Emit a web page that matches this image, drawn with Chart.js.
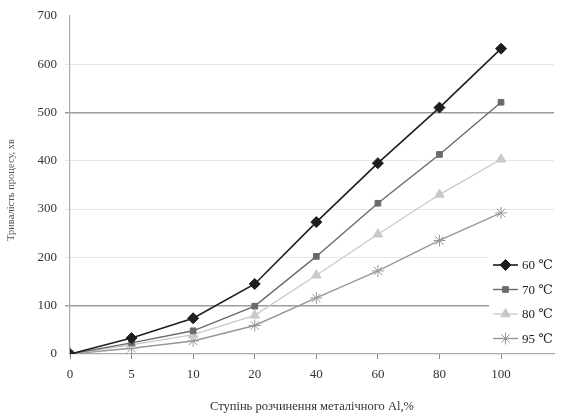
<!DOCTYPE html>
<html>
<head>
<meta charset="utf-8">
<script src="https://cdn.jsdelivr.net/npm/chart.js@4/dist/chart.umd.min.js"></script>
<style>
  html, body { margin: 0; padding: 0; background: #fff; }
  #wrap { position: relative; width: 561px; height: 418px; }
</style>
</head>
<body>
<div id="wrap"><canvas id="chart" width="561" height="418"></canvas></div>
<script>
// x categories (degree of Al dissolution, %)
const xLabels = ['0', '5', '10', '20', '40', '60', '80', '100'];

// process duration, min
const t60 = [0, 33, 74, 145, 273, 395, 510, 632];
const t70 = [0, 23, 48, 99, 202, 312, 413, 521];
const t80 = [0, 19, 40, 80, 163, 248, 330, 403];
const t95 = [0, 12, 27, 59, 116, 172, 235, 292];

const seriesNames = ['60 ℃', '70 ℃', '80 ℃', '95 ℃'];
const yTicks = [0, 100, 200, 300, 400, 500, 600, 700];

const FONT = "'Liberation Serif', 'DejaVu Serif', serif";

function toPoints(arr) {
    return arr.map((v, i) => ({ x: i, y: v }));
}

// legend drawn inside the plot area, on a white box
const legendBox = {
    id: 'legendBox',
    afterDraw(chart) {
        const ctx = chart.ctx;
        ctx.save();
        ctx.fillStyle = '#fff';
        ctx.fillRect(489, 252, 72, 98);
        chart.data.datasets.forEach((ds, i) => {
            const y = 265 + i * 24.5;
            ctx.strokeStyle = ds.borderColor;
            ctx.lineWidth = ds.borderWidth;
            ctx.beginPath();
            ctx.moveTo(493, y);
            ctx.lineTo(518, y);
            ctx.stroke();
            ctx.fillStyle = ds.pointBackgroundColor;
            ctx.strokeStyle = ds.pointBorderColor;
            ctx.lineWidth = 1;
            Chart.helpers.drawPoint(ctx, {
                pointStyle: ds.pointStyle,
                radius: ds.pointRadius,
                borderWidth: 1,
                rotation: 0
            }, 505.5, y);
            ctx.fillStyle = '#222';
            ctx.font = '13px ' + FONT;
            ctx.textBaseline = 'middle';
            ctx.fillText(ds.label, 522, y + 1);
        });
        ctx.restore();
    }
};

// rotated y title
const yTitle = {
    id: 'yTitle',
    afterDraw(chart) {
        const ctx = chart.ctx;
        ctx.save();
        ctx.translate(11, 190);
        ctx.rotate(-Math.PI / 2);
        ctx.fillStyle = '#555';
        ctx.font = '10.5px ' + FONT;
        ctx.textAlign = 'center';
        ctx.textBaseline = 'middle';
        ctx.fillText('Тривалість процесу, хв', 0, 0);
        ctx.restore();
    }
};

const styles = [
    { color: '#1e1e1e', point: 'rectRot', r: 5.5, w: 1.6 },
    { color: '#6a6a6a', point: 'rect', r: 4, w: 1.4 },
    { color: '#c9c9c9', point: 'triangle', r: 5.5, w: 1.3 },
    { color: '#979797', point: 'star', r: 6, w: 1.4 }
];

const allData = [t60, t70, t80, t95];

const datasets = allData.map((arr, i) => ({
    label: seriesNames[i],
    data: toPoints(arr),
    borderColor: styles[i].color,
    backgroundColor: styles[i].color,
    pointBackgroundColor: styles[i].color,
    pointBorderColor: styles[i].color,
    pointStyle: styles[i].point,
    pointRadius: styles[i].r,
    pointBorderWidth: 1,
    borderWidth: styles[i].w,
    tension: 0
}));

new Chart(document.getElementById('chart'), {
    type: 'line',
    data: { datasets: datasets },
    options: {
        responsive: false,
        animation: false,
        layout: { padding: { top: 8, right: 0, left: 0, bottom: 0 } },
        plugins: {
            legend: { display: false },
            tooltip: { enabled: false }
        },
        scales: {
            x: {
                type: 'linear',
                min: 0,
                max: 7.86,
                afterFit(scale) {
                    scale.height = 64;
                },
                afterBuildTicks(scale) {
                    scale.ticks = xLabels.map((l, i) => ({ value: i }));
                },
                ticks: {
                    autoSkip: false,
                    maxRotation: 0,
                    padding: 8,
                    color: '#333',
                    font: { family: FONT, size: 13 },
                    callback: v => xLabels[v] !== undefined ? xLabels[v] : ''
                },
                grid: {
                    drawOnChartArea: false,
                    tickLength: 5,
                    color: '#888'
                },
                border: { color: '#aaa', width: 1.2 },
                title: {
                    display: true,
                    text: 'Ступінь розчинення металічного Al,%',
                    color: '#333',
                    font: { family: FONT, size: 12.5 },
                    padding: { top: 6 }
                }
            },
            y: {
                min: 0,
                max: 700,
                afterFit(scale) { scale.width = 70; },
                afterBuildTicks(scale) {
                    scale.ticks = yTicks.map(v => ({ value: v }));
                },
                ticks: {
                    padding: 8,
                    color: '#333',
                    font: { family: FONT, size: 13 }
                },
                grid: {
                    tickLength: 5,
                    color: ctx => {
                        const v = ctx.tick && ctx.tick.value;
                        if (v === 100 || v === 500) return '#9c9c9c';
                        if (v === 0 || v === 700) return 'rgba(0,0,0,0)';
                        return '#e6e6e6';
                    },
                    lineWidth: ctx => {
                        const v = ctx.tick && ctx.tick.value;
                        return (v === 100 || v === 500) ? 1.5 : 1;
                    }
                },
                border: { color: '#aaa', width: 1.2 }
            }
        }
    },
    plugins: [legendBox, yTitle]
});
</script>
</body>
</html>
